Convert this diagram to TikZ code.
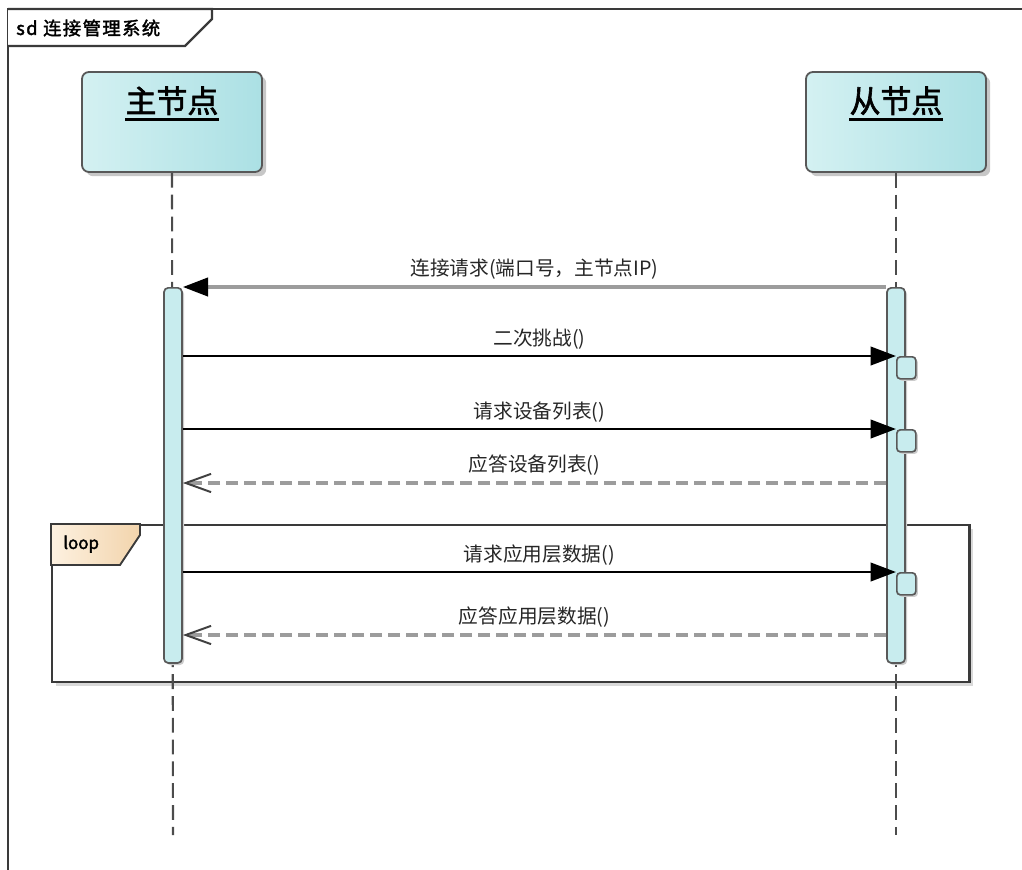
\documentclass[tikz,border=0pt]{standalone}
\usepackage{fontspec}
\newfontfamily\cjk{Noto Sans CJK SC}[AutoFakeBold=2]
\usetikzlibrary{positioning,arrows.meta,shadows}

\definecolor{lineclr}{HTML}{3A3A3A}
\definecolor{barfill}{HTML}{C8ECEE}
\definecolor{headleft}{HTML}{D4F1F2}
\definecolor{headright}{HTML}{ABE0E4}
\definecolor{replyclr}{HTML}{9C9C9C}
\definecolor{tableft}{HTML}{FDF1E0}
\definecolor{tabright}{HTML}{F2D4AC}

\tikzset{
  frameline/.style={draw=lineclr, line width=1.6pt},
  frametitle/.style={font=\cjk\bfseries\fontsize{13}{15}\selectfont\addfontfeature{LetterSpace=8}, inner sep=0pt},
  head/.style={rectangle, rounded corners=5pt, draw=lineclr!85, line width=1.3pt,
    left color=headleft, right color=headright, minimum width=4.5cm, minimum height=2.5cm,
    drop shadow={shadow xshift=3pt, shadow yshift=-3pt, fill=black!22, opacity=1}},
  headtext/.style={font=\cjk\bfseries\fontsize{22}{26}\selectfont, inner sep=0pt},
  lifeline/.style={draw=black!70, line width=1.5pt, dash pattern=on 10.5pt off 5pt},
  bar/.style={rectangle, rounded corners=3pt, draw=black!65, line width=1.2pt, fill=barfill,
    minimum width=0.45cm, minimum height=9.375cm, inner sep=0pt,
    drop shadow={shadow xshift=1.5pt, shadow yshift=-1.5pt, fill=black!20, opacity=1}},
  execbox/.style={rectangle, rounded corners=2.5pt, draw=black!65, line width=1.2pt, fill=barfill,
    minimum width=0.475cm, minimum height=0.55cm, inner sep=0pt,
    drop shadow={shadow xshift=1.5pt, shadow yshift=-1.5pt, fill=black!20, opacity=1}},
  loopbox/.style={rectangle, draw=lineclr, line width=1.7pt, fill=white, minimum width=22.925cm,
    minimum height=3.925cm, inner sep=0pt,
    drop shadow={shadow xshift=2.5pt, shadow yshift=-2.5pt, fill=black!15, opacity=1}},
  looptab/.style={draw=lineclr, line width=1.3pt, left color=tableft, right color=tabright},
  looptext/.style={font=\cjk\bfseries\fontsize{12}{14}\selectfont, inner sep=0pt},
  msglabel/.style={font=\cjk\fontsize{14}{16}\selectfont, text=black!85, inner sep=1pt},
  call/.style={draw=black, line width=2.1pt, -{Triangle[length=18pt, width=13pt]}},
  async/.style={draw=replyclr, line width=2.5pt, -{Triangle[length=18pt, width=13pt, color=black]}},
  reply/.style={draw=replyclr, line width=2.5pt, dash pattern=on 8.5pt off 4.3pt,
    -{Straight Barb[length=18pt, width=13pt, line width=1.4pt, color=black!75]}}
}

\begin{document}
\begin{tikzpicture}[x=0.025cm, y=-0.025cm]
\useasboundingbox (0,0) rectangle (1022,870);

% diagram frame
\draw[frameline] (1022,9) -- (8,9) -- (8,870);
\draw[frameline, fill=white] (8,9) -- (212,9) -- (212,19) -- (185,46) -- (8,46);
\node[frametitle, anchor=west] (sdTitle) at (16,28) {sd 连接管理系统};

% loop fragment
\node[loopbox, anchor=north west] (loopFrame) at (51,524) {};
\draw[looptab] (loopFrame.north west) -- ++(89,0) -- ++(0,11) -- ++(-20,30) -- ++(-69,0) -- cycle;
\node[looptext, below right=0.28cm and 0.3cm of loopFrame.north west, anchor=north west] (loopName) {loop};

% lifeline heads
\node[head] (masterHead) at (172,122) {};
\node[head] (slaveHead) at (896,122) {};
\node[headtext, below=0.38cm of masterHead.north] (masterName) {主节点};
\node[headtext, below=0.38cm of slaveHead.north] (slaveName) {从节点};
\draw[line width=1.8pt] ([yshift=-5pt]masterName.base west) -- ([yshift=-5pt]masterName.base east);
\draw[line width=1.8pt] ([yshift=-5pt]slaveName.base west) -- ([yshift=-5pt]slaveName.base east);

% lifelines
\coordinate (masterEnd) at (173,835);
\coordinate (slaveEnd) at (896,835);
\draw[lifeline] (masterHead.south) -- (masterEnd);
\draw[lifeline] (slaveHead.south) -- (slaveEnd);

% activations
\node[bar, anchor=north] (masterBar) at (173,287) {};
\node[bar, anchor=north] (slaveBar) at (896,287) {};
\node[execbox, anchor=north west] (exec1) at (896,356) {};
\node[execbox, anchor=north west] (exec2) at (896,429) {};
\node[execbox, anchor=north west] (exec3) at (896,572) {};

% messages
\coordinate (ret1) at (0,483);
\coordinate (ret2) at (0,635);
\draw[async] (slaveBar.north west) -- (masterBar.north east)
  node[msglabel, midway, above=3pt] {连接请求(端口号，主节点IP)};
\draw[call] (masterBar.east |- exec1.north) -- (exec1.north west)
  node[msglabel, midway, above=3pt] {二次挑战()};
\draw[call] (masterBar.east |- exec2.north) -- (exec2.north west)
  node[msglabel, midway, above=3pt] {请求设备列表()};
\draw[reply] (slaveBar.west |- ret1) -- (masterBar.east |- ret1)
  node[msglabel, midway, above=3pt] {应答设备列表()};
\draw[call] (masterBar.east |- exec3.north) -- (exec3.north west)
  node[msglabel, midway, above=3pt] {请求应用层数据()};
\draw[reply] (slaveBar.west |- ret2) -- (masterBar.east |- ret2)
  node[msglabel, midway, above=3pt] {应答应用层数据()};
\end{tikzpicture}
\end{document}
